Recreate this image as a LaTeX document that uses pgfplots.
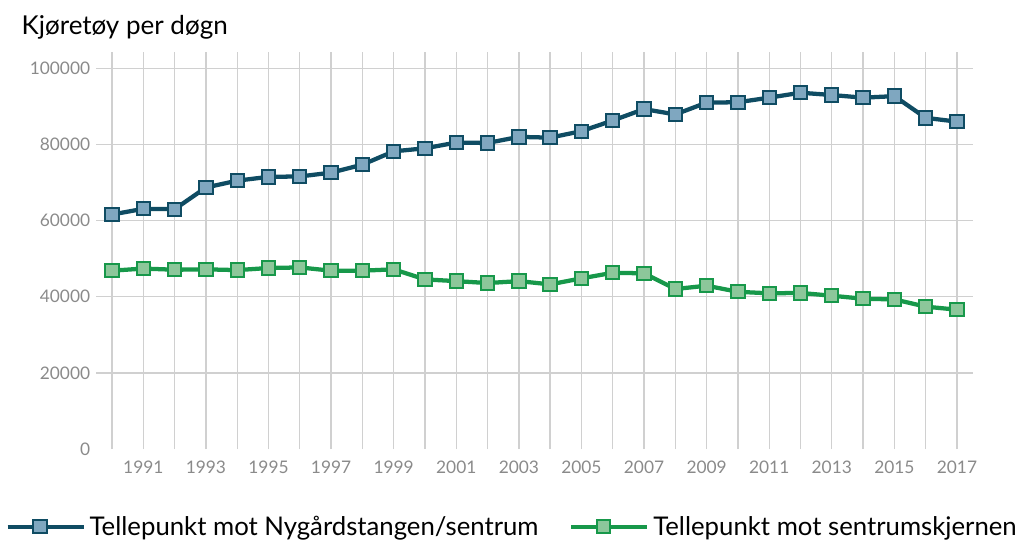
\documentclass[border=0pt]{standalone}
\usepackage{pgfplots}
\pgfplotsset{compat=1.18}
\usepackage{fontspec}
\setmainfont{Lato}
\definecolor{bline}{HTML}{0F4C63}
\definecolor{bfill}{HTML}{7FA7C0}
\definecolor{gline}{HTML}{17984A}
\definecolor{gfill}{HTML}{8CC79A}
\definecolor{gridc}{HTML}{D0D0D0}
\definecolor{tickc}{HTML}{8A8A8A}
\begin{document}
\begin{tikzpicture}
\path[use as bounding box] (0,0) rectangle (768pt,407.25pt);
\node[anchor=west,inner sep=0pt,font=\fontsize{19.5pt}{22pt}\selectfont] at (16pt,386.5pt) {Kjøretøy per døgn};
\begin{axis}[
  at={(72.3pt,70.5pt)}, anchor=south west,
  scale only axis, width=657.15pt, height=297.75pt,
  xmin=1989.5, xmax=2017.5, ymin=0, ymax=104300,
  axis line style={draw=none},
  scaled y ticks=false,
  xtick={1991,1993,...,2017},
  minor xtick={1990,1992,...,2016},
  ytick={20000,40000,...,100000},
  extra y ticks={0}, extra y tick style={grid=none},
  grid=both,
  major grid style={gridc, line width=1pt},
  minor grid style={gridc, line width=1pt},
  tick style={draw=none},
  /pgf/number format/assume math mode=true,
  /pgf/number format/1000 sep={},
  ticklabel style={font=\fontsize{13pt}{15pt}\selectfont, text=tickc},
  yticklabel style={inner sep=0pt, xshift=-4.5pt, /pgf/number format/fixed},
  xticklabel style={inner sep=0pt, yshift=-9pt},
  legend columns=2,
  legend style={draw=none, inner sep=0pt, at={(-0.104,-0.196)}, anchor=west,
    font=\fontsize{19.3pt}{22pt}\selectfont,
    nodes={inner sep=3pt},
    /tikz/every even column/.append style={column sep=20pt}},
  legend image code/.code={\draw[mark repeat=2,mark phase=2] plot coordinates {(0cm,0cm) (0.85cm,0cm) (2.0cm,0cm)};},
]
\addplot[bline, line width=3.2pt, mark=square*, mark size=5pt,
  mark options={fill=bfill, draw=bline, line width=1.5pt, solid}] coordinates {
(1990,61600) (1991,63100) (1992,63000) (1993,68700) (1994,70500) (1995,71500)
(1996,71600) (1997,72600) (1998,74700) (1999,78200) (2000,79000) (2001,80500)
(2002,80400) (2003,82000) (2004,81800) (2005,83500) (2006,86300) (2007,89300)
(2008,87900) (2009,91000) (2010,91100) (2011,92300) (2012,93600) (2013,93000)
(2014,92300) (2015,92700) (2016,87000) (2017,86000)};
\addlegendentry{Tellepunkt mot Nygårdstangen/sentrum}
\addplot[gline, line width=3.2pt, mark=square*, mark size=5pt,
  mark options={fill=gfill, draw=gline, line width=1.5pt, solid}] coordinates {
(1990,46850) (1991,47400) (1992,47100) (1993,47200) (1994,47000) (1995,47550)
(1996,47700) (1997,46850) (1998,46850) (1999,47200) (2000,44560) (2001,44100)
(2002,43600) (2003,44100) (2004,43250) (2005,44830) (2006,46300) (2007,46150)
(2008,42030) (2009,42900) (2010,41300) (2011,40900) (2012,41000) (2013,40270)
(2014,39480) (2015,39300) (2016,37400) (2017,36600)};
\addlegendentry{Tellepunkt mot sentrumskjernen}
\end{axis}
\end{tikzpicture}
\end{document}
